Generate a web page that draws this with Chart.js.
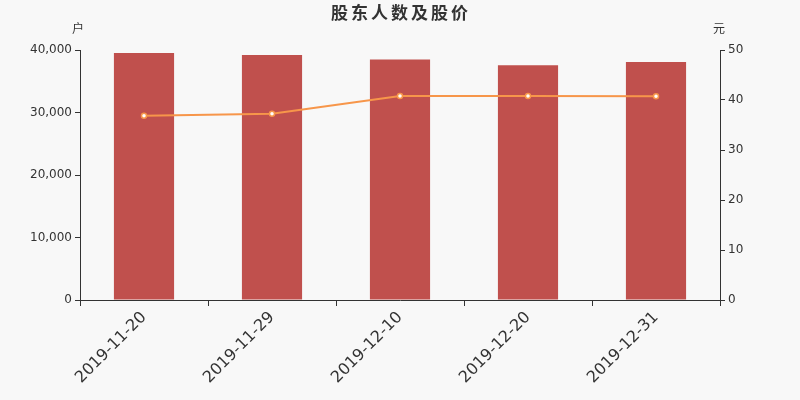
<!DOCTYPE html>
<html><head><meta charset="utf-8">
<script src="https://cdn.jsdelivr.net/npm/chart.js@4"></script>
<style>html,body{margin:0;padding:0;background:#f8f8f8}#wrap{width:800px;height:400px}</style>
</head><body><div id="wrap"><canvas id="c"></canvas></div>
<script>
const categories = ['2019-11-20','2019-11-29','2019-12-10','2019-12-20','2019-12-31'];
const holders = [39520, 39200, 38500, 37550, 38080];
const prices = [36.87, 37.27, 40.8, 40.8, 40.75];
const title = '股东人数及股价';
const leftUnit = '户';
const rightUnit = '元';

const extras = {
  id: 'extras',
  beforeDraw(chart) {
    const ctx = chart.ctx;
    ctx.save();
    ctx.fillStyle = '#f8f8f8';
    ctx.fillRect(0, 0, chart.width, chart.height);
    ctx.restore();
  },
  afterDraw(chart) {
    const ctx = chart.ctx;
    const a = chart.chartArea;
    ctx.save();
    ctx.fillStyle = '#333';
    ctx.textAlign = 'center';
    ctx.textBaseline = 'middle';
    ctx.font = 'bold 17px "Noto Sans CJK SC"';
    try { ctx.letterSpacing = '3px'; } catch (e) {}
    ctx.fillText(title, 401, 13);
    try { ctx.letterSpacing = '0px'; } catch (e) {}
    ctx.font = '12px "Noto Sans CJK SC"';
    ctx.fillText(leftUnit, chart.scales.y.right - 2, 28);
    ctx.fillText(rightUnit, chart.scales.y1.left - 1, 28);
    ctx.restore();
  }
};

new Chart(document.getElementById('c'), {
  data: {
    labels: categories,
    datasets: [
      {
        type: 'line', data: prices, yAxisID: 'y1', order: 0,
        borderColor: '#f7964a', borderWidth: 2, tension: 0,
        pointRadius: 2.5, pointBackgroundColor: '#ffffff', pointBorderColor: '#f7964a', pointBorderWidth: 1.5
      },
      {
        type: 'bar', data: holders, yAxisID: 'y', order: 1,
        backgroundColor: '#c0504d', barPercentage: 0.47, categoryPercentage: 1
      }
    ]
  },
  options: {
    responsive: true, maintainAspectRatio: false, animation: false,
    devicePixelRatio: 1,
    layout: { padding: { top: 50, left: 0, right: 0, bottom: 0 } },
    plugins: { legend: { display: false }, title: { display: false }, tooltip: { enabled: false } },
    scales: {
      x: {
        offset: true,
        grid: { display: true, drawOnChartArea: false, drawTicks: true, tickLength: 6, offset: true, color: '#333' },
        border: { color: '#333', width: 1 },
        ticks: { color: '#333', font: { family: 'DejaVu Sans', size: 16 }, minRotation: 45, maxRotation: 45, padding: 2 },
        afterFit(s) { s.height = 100; }
      },
      y: {
        position: 'left', min: 0, max: 40000,
        grid: { drawOnChartArea: false, drawTicks: true, tickLength: 5, color: '#333' },
        border: { color: '#333', width: 1 },
        ticks: { stepSize: 10000, color: '#333', font: { family: 'DejaVu Sans', size: 12 }, padding: 3,
          callback: v => v.toLocaleString('en-US') },
        afterFit(s) { s.width = 80; }
      },
      y1: {
        position: 'right', min: 0, max: 50,
        grid: { drawOnChartArea: false, drawTicks: true, tickLength: 5, color: '#333' },
        border: { color: '#333', width: 1 },
        ticks: { stepSize: 10, color: '#333', font: { family: 'DejaVu Sans', size: 12 }, padding: 3 },
        afterFit(s) { s.width = 80; }
      }
    }
  },
  plugins: [extras]
});
</script></body></html>
